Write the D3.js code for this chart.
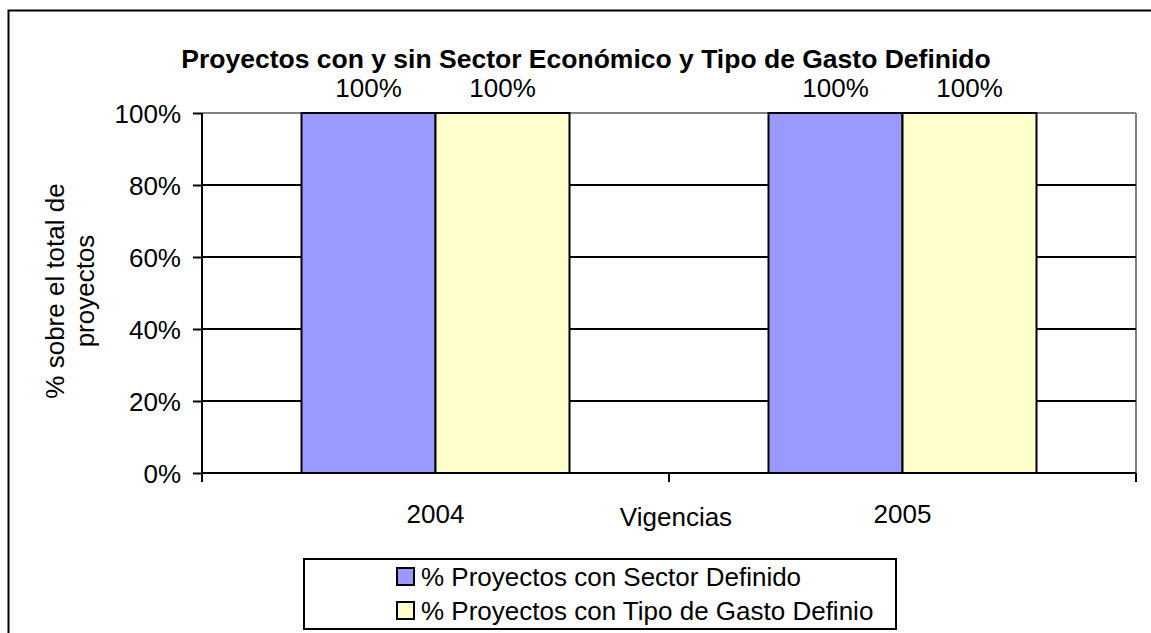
<!DOCTYPE html>
<html>
<head>
<meta charset="utf-8">
<script src="https://cdn.jsdelivr.net/npm/d3@7"></script>
<style>
    body { margin: 0; background: #fff; }
    svg text { font-family: "Liberation Sans", Arial, sans-serif; fill: #000; }
</style>
</head>
<body>
<div id="chart"></div>
<script>
// chart values
var years = ["2004", "2005"];
var sectorDefinido = [100, 100];
var tipoGastoDefinido = [100, 100];
var yTicks = [0, 20, 40, 60, 80, 100];
var seriesNames = ["% Proyectos con Sector Definido", "% Proyectos con Tipo de Gasto Definio"];
var seriesColors = ["#9999ff", "#ffffcc"];

var width = 1151, height = 633;
var plot = {left: 202, top: 113, right: 1136, bottom: 473};
var fontSize = "26px";

var svg = d3.select("#chart").append("svg")
    .attr("width", width)
    .attr("height", height);

// outer frame (runs off the right and bottom)
svg.append("rect")
    .attr("x", 8.5).attr("y", 10.5)
    .attr("width", 1160).attr("height", 650)
    .attr("fill", "none")
    .attr("stroke", "#000")
    .attr("stroke-width", 2);

var xScale = d3.scaleBand()
    .domain(years)
    .range([plot.left, plot.right])
    .paddingInner(0)
    .paddingOuter(0);

var yScale = d3.scaleLinear()
    .domain([0, 100])
    .range([plot.bottom, plot.top]);

var data = years.map(function (d, i) {
    return {label: d, values: [sectorDefinido[i], tipoGastoDefinido[i]]};
});

// gray top and right borders of the plot area
svg.append("line")
    .attr("x1", plot.left).attr("x2", plot.right)
    .attr("y1", yScale(100)).attr("y2", yScale(100))
    .attr("stroke", "#808080").attr("stroke-width", 2);
svg.append("line")
    .attr("x1", plot.right).attr("x2", plot.right)
    .attr("y1", plot.top).attr("y2", plot.bottom)
    .attr("stroke", "#808080").attr("stroke-width", 2);

// gridlines
svg.append("g")
    .selectAll("line")
    .data(yTicks.filter(function (d) { return d > 0 && d < 100; }))
    .enter().append("line")
    .attr("x1", plot.left).attr("x2", plot.right)
    .attr("y1", function (d) { return yScale(d); })
    .attr("y2", function (d) { return yScale(d); })
    .attr("stroke", "#000").attr("stroke-width", 2);

// bars
var barWidth = 134;
var inner = d3.scaleBand()
    .domain([0, 1])
    .range([0, barWidth * 2]);

var groups = svg.selectAll(".year")
    .data(data)
    .enter().append("g")
    .attr("class", "year")
    .attr("transform", function (d) {
        return "translate(" + (xScale(d.label) + (xScale.bandwidth() - barWidth * 2) / 2) + ",0)";
    });

groups.selectAll("rect")
    .data(function (d) { return d.values; })
    .enter().append("rect")
    .attr("x", function (d, i) { return inner(i); })
    .attr("y", function (d) { return yScale(d); })
    .attr("width", inner.bandwidth())
    .attr("height", function (d) { return yScale(0) - yScale(d); })
    .attr("fill", function (d, i) { return seriesColors[i]; })
    .attr("stroke", "#000")
    .attr("stroke-width", 2);

// value labels
groups.selectAll(".val")
    .data(function (d) { return d.values; })
    .enter().append("text")
    .attr("class", "val")
    .attr("x", function (d, i) { return inner(i) + inner.bandwidth() / 2; })
    .attr("y", function (d) { return yScale(d) - 16; })
    .attr("text-anchor", "middle")
    .style("font-size", fontSize)
    .text(function (d) { return d + "%"; });

// y axis
var yAxis = d3.axisLeft(yScale)
    .tickValues(yTicks)
    .tickSize(9)
    .tickPadding(12)
    .tickFormat(function (d) { return d + "%"; });

var gy = svg.append("g")
    .attr("transform", "translate(" + plot.left + ",0)")
    .call(yAxis);
gy.select(".domain").remove();
gy.selectAll(".tick line").attr("stroke", "#000").attr("stroke-width", 2);
gy.selectAll(".tick text").style("font-size", fontSize).attr("font-family", null).attr("dy", "0.35em");
gy.append("line")
    .attr("x1", 0).attr("x2", 0)
    .attr("y1", plot.top).attr("y2", plot.bottom + 9)
    .attr("stroke", "#000").attr("stroke-width", 2);

// x axis
var gx = svg.append("g")
    .attr("transform", "translate(0," + plot.bottom + ")");
gx.append("line")
    .attr("x1", plot.left).attr("x2", plot.right)
    .attr("stroke", "#000").attr("stroke-width", 2);
gx.selectAll(".xtick")
    .data(years.concat(["end"]))
    .enter().append("line")
    .attr("class", "xtick")
    .attr("x1", function (d) { return d === "end" ? plot.right : xScale(d); })
    .attr("x2", function (d) { return d === "end" ? plot.right : xScale(d); })
    .attr("y1", 0).attr("y2", 9)
    .attr("stroke", "#000").attr("stroke-width", 2);
gx.selectAll(".xlabel")
    .data(years)
    .enter().append("text")
    .attr("class", "xlabel")
    .attr("x", function (d) { return xScale(d) + xScale.bandwidth() / 2; })
    .attr("y", 50)
    .attr("text-anchor", "middle")
    .style("font-size", fontSize)
    .text(function (d) { return d; });

// axis titles
svg.append("text")
    .attr("x", 676).attr("y", 526)
    .attr("text-anchor", "middle")
    .style("font-size", fontSize)
    .text("Vigencias");

var yTitle = svg.append("text")
    .attr("transform", "translate(0,291) rotate(-90)")
    .attr("text-anchor", "middle")
    .style("font-size", fontSize);
yTitle.append("tspan").attr("x", 0).attr("y", 64).text("% sobre el total de");
yTitle.append("tspan").attr("x", 0).attr("y", 94).text("proyectos");

// title
svg.append("text")
    .attr("x", 586).attr("y", 68)
    .attr("text-anchor", "middle")
    .style("font-size", "26.5px")
    .style("font-weight", "bold")
    .text("Proyectos con y sin Sector Económico y Tipo de Gasto Definido");

// legend
var legend = svg.append("g");
legend.append("rect")
    .attr("x", 304).attr("y", 559)
    .attr("width", 592).attr("height", 70)
    .attr("fill", "#fff")
    .attr("stroke", "#000")
    .attr("stroke-width", 2);

var items = legend.selectAll(".item")
    .data(seriesNames)
    .enter().append("g")
    .attr("class", "item")
    .attr("transform", function (d, i) { return "translate(397," + (568 + i * 34) + ")"; });
items.append("rect")
    .attr("width", 17).attr("height", 17)
    .attr("fill", function (d, i) { return seriesColors[i]; })
    .attr("stroke", "#000")
    .attr("stroke-width", 2);
items.append("text")
    .attr("x", 24).attr("y", 18)
    .style("font-size", fontSize)
    .text(function (d) { return d; });
</script>
</body>
</html>
